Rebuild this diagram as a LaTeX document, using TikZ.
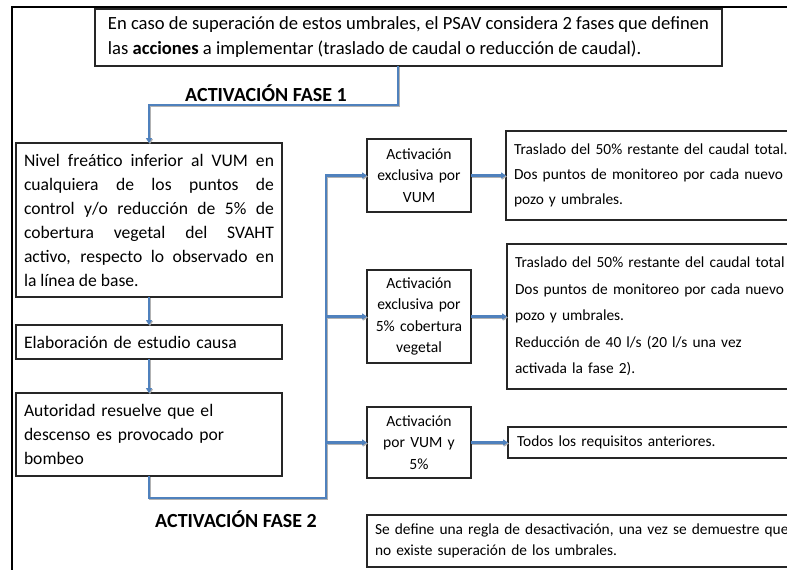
\documentclass[tikz,border=0pt]{standalone}
\usepackage{fontspec}
\setmainfont{Carlito}
\usetikzlibrary{arrows.meta}
\definecolor{connblue}{HTML}{4F81BD}
\definecolor{boxline}{HTML}{262626}
\begin{document}
\begin{tikzpicture}[x=1pt,y=-1pt,
  box/.style={draw=boxline, line width=1.1pt, inner ysep=0pt, outer sep=0pt},
  bigtxt/.style={font=\fontsize{17.6}{24}\selectfont},
  midtxt/.style={font=\fontsize{15.6}{21.5}\selectfont},
  righttxt/.style={font=\fontsize{15.4}{#1}\selectfont},
  conn/.style={draw=connblue, line width=2.4pt,
    preaction={draw=black!30, line width=2.4pt, transform canvas={shift={(0.9pt,-1.1pt)}}}},
  arr/.style={conn, -{Triangle[length=5pt,width=6pt]}},
  heading/.style={font=\fontsize{20}{22}\selectfont\bfseries, inner sep=0pt, anchor=base}
]
\useasboundingbox (0,0) rectangle (787,570);
\clip (0,0) rectangle (787,570);
\draw[line width=2pt] (11.5,572) -- (11.5,6.5) -- (789,6.5);

\node[box, font=\fontsize{18.6}{25}\selectfont, minimum width=627pt, minimum height=57pt, inner xsep=0pt, align=left] (top) at (408.5,37.5)
  {En caso de superación de estos umbrales, el PSAV considera 2 fases que definen\\
   las \textbf{acciones} a implementar (traslado de caudal o reducción de caudal).};

\node[heading] (fase1) at (266,101) {ACTIVACIÓN FASE 1};
\node[heading] (fase2) at (236,527) {ACTIVACIÓN FASE 2};

\node[box, bigtxt, minimum width=266pt, minimum height=154pt, inner xsep=8pt, text width=250pt, align=justify] (nivel) at (149,220)
  {Nivel freático inferior al VUM en\linebreak cualquiera de los puntos de\linebreak control y/o reducción de 5\% de\linebreak cobertura vegetal del SVAHT\linebreak activo, respecto lo observado en\linebreak la línea de base.};

\node[box, bigtxt, minimum width=266pt, minimum height=34pt, inner xsep=8pt, text width=250pt, align=left] (elab) at (149,342)
  {Elaboración de estudio causa};

\node[box, bigtxt, minimum width=266pt, minimum height=83pt, inner xsep=8pt, text width=250pt, align=left] (aut) at (149,434.5)
  {Autoridad resuelve que el\\descenso es provocado por\\bombeo};

\node[box, midtxt, minimum width=104pt, minimum height=73pt, inner xsep=2pt, text width=100pt, align=center] (actA) at (419,175.5)
  {Activación\\exclusiva por\\VUM};
\node[box, midtxt, minimum width=104pt, minimum height=93pt, inner xsep=2pt, text width=100pt, align=center] (actB) at (419,316.5)
  {Activación\\exclusiva por\\5\% cobertura\\vegetal};
\node[box, midtxt, minimum width=104pt, minimum height=71pt, inner xsep=2pt, text width=100pt, align=center] (actC) at (419,442.5)
  {Activación\\por VUM y\\5\%};

\node[box, righttxt=25, anchor=west, minimum height=89pt, inner xsep=8pt, text width=300pt, align=left] (r1) at (506,175.5)
  {Traslado del 50\% restante del caudal total.\\Dos puntos de monitoreo por cada nuevo\\pozo y umbrales.};
\node[box, righttxt=26.5, anchor=west, minimum height=145pt, inner xsep=8pt, text width=300pt, align=left] (r2) at (507,316.5)
  {Traslado del 50\% restante del caudal total\\Dos puntos de monitoreo por cada nuevo\\pozo y umbrales.\\Reducción de 40 l/s (20 l/s una vez\\activada la fase 2).};
\node[box, righttxt=21, anchor=west, minimum height=31pt, inner xsep=9pt, text width=300pt, align=left] (r3) at (508,442.5)
  {Todos los requisitos anteriores.};
\node[box, righttxt=21, anchor=west, minimum height=52pt, inner xsep=8pt, text width=440pt, align=left] (r4) at (367,541)
  {Se define una regla de desactivación, una vez se demuestre que\\no existe superación de los umbrales.};

\coordinate (busbot) at (326,498);
\draw[arr] ([xshift=-10.5pt]top.south) -- ++(0,39) -| (nivel.north);
\draw[arr] (nivel.south) -- (elab.north);
\draw[arr] (elab.south) -- (aut.north);
\draw[arr] (aut.south) |- (busbot) |- (actA.west);
\draw[arr] (busbot |- actB.west) -- (actB.west);
\draw[arr] (busbot |- actC.west) -- (actC.west);
\draw[arr] (actA.east) -- (actA.east -| r1.west);
\draw[arr] (actB.east) -- (actB.east -| r2.west);
\draw[arr] (actC.east) -- (actC.east -| r3.west);
\end{tikzpicture}
\end{document}
